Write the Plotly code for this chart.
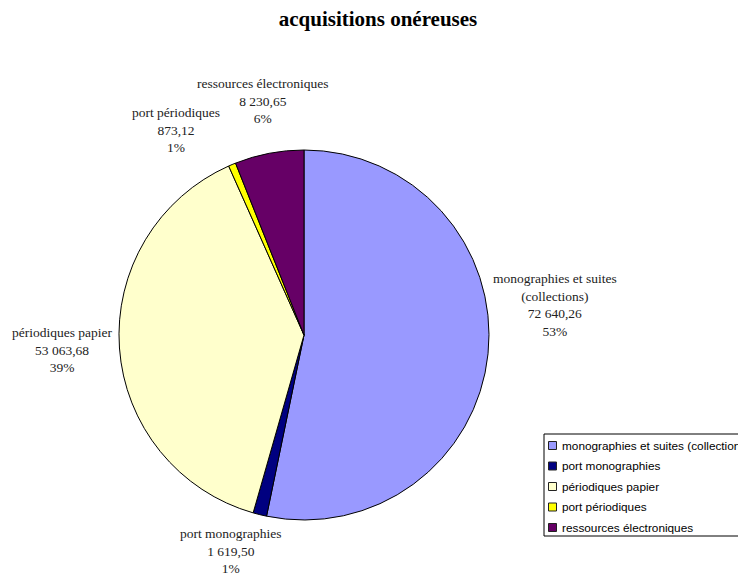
import plotly.graph_objects as go

categories = ["monographies et suites (collections)", "port monographies",
              "périodiques papier", "port périodiques", "ressources électroniques"]
label_names = ["monographies et suites<br>(collections)", "port monographies",
               "périodiques papier", "port périodiques", "ressources électroniques"]
values = [72640.26, 1619.50, 53063.68, 873.12, 8230.65]
colors = ["#9999FF", "#000080", "#FFFFCC", "#FFFF00", "#660066"]

# label anchor positions (screen pixel centres)
label_px = [555, 231, 62, 176, 263]
label_py = [305, 551, 350, 130, 101]

total = sum(values)
W, H = 746, 573
OFF = 8  # page body margin offset

def X(px):
    return (px - OFF) / W

def Y(py):
    return 1 - (py - OFF) / H

def fmt(v):
    s = f"{v:,.2f}"
    return s.replace(",", " ").replace(".", ",")

fig = go.Figure()
fig.add_trace(go.Pie(
    labels=categories, values=values, sort=False, direction="clockwise", rotation=0,
    marker=dict(colors=colors, line=dict(color="black", width=1)),
    textinfo="none", hoverinfo="label+value+percent",
    domain=dict(x=[X(119), X(489)], y=[Y(520), Y(150)]),
    showlegend=False,
))

for name, v, px, py in zip(label_names, values, label_px, label_py):
    pct = round(v / total * 100)
    fig.add_annotation(x=X(px), y=Y(py), xref="paper", yref="paper", showarrow=False,
                       xanchor="center", yanchor="middle",
                       text=f"{name}<br>{fmt(v)}<br>{pct}%", align="center",
                       font=dict(family="Liberation Serif", size=13.5, color="#222"))

# legend box (drawn as layout shapes / annotations)
leg_left, leg_top, leg_bottom = 544, 434, 536
item_y0, item_dy = 445.5, 20.5
fig.add_shape(type="rect", xref="paper", yref="paper",
              x0=X(leg_left), x1=X(W + 30), y0=Y(leg_bottom), y1=Y(leg_top),
              line=dict(color="black", width=1), fillcolor="white", layer="above")
for i, (cat, col) in enumerate(zip(categories, colors)):
    cy = item_y0 + i * item_dy
    fig.add_shape(type="rect", xref="paper", yref="paper",
                  x0=X(548.5), x1=X(556.5), y0=Y(cy + 4), y1=Y(cy - 4),
                  line=dict(color="#222", width=1), fillcolor=col, layer="above")
    fig.add_annotation(x=X(560), y=Y(cy), xref="paper", yref="paper", showarrow=False,
                       xanchor="left", yanchor="middle", text=cat,
                       font=dict(family="Liberation Sans", size=11.8, color="black"))

fig.update_layout(
    width=W, height=H,
    margin=dict(l=0, r=0, t=0, b=0, autoexpand=False),
    paper_bgcolor="white", plot_bgcolor="white",
    title=dict(text="<b>acquisitions onéreuses</b>", x=X(378), xanchor="center",
               y=Y(19), yanchor="middle",
               font=dict(family="Liberation Serif", size=21, color="black")),
    showlegend=False,
)

fig.write_html("out.html")
